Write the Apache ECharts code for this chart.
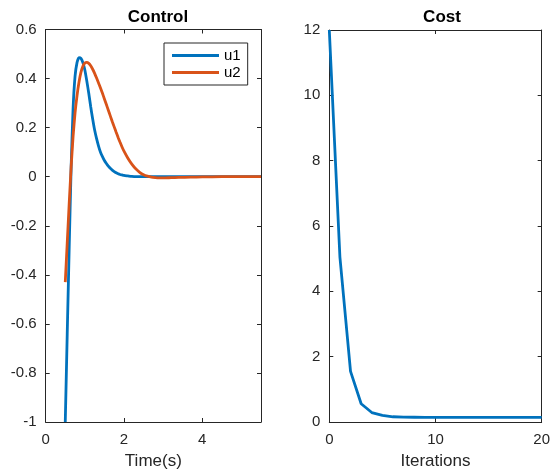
<!DOCTYPE html>
<html>
<head>
<meta charset="utf-8">
<script src="https://cdn.jsdelivr.net/npm/echarts@6/dist/echarts.min.js"></script>
<style>
html,body{margin:0;padding:0;background:#fff;}
#chart{width:553px;height:475px;}
</style>
</head>
<body>
<div id="chart"></div>
<script>
// ---- data ----
const time = [0.50, 0.55, 0.60, 0.65, 0.70, 0.75, 0.80, 0.85, 0.90, 0.95,
              1.00, 1.05, 1.10, 1.15, 1.20, 1.25, 1.30, 1.35, 1.40, 1.45,
              1.50, 1.55, 1.60, 1.65, 1.70, 1.75, 1.80, 1.85, 1.90, 1.95,
              2.00, 2.10, 2.20, 2.30, 2.40, 2.50, 2.60, 2.70, 2.80, 2.90,
              3.00, 3.20, 3.40, 3.70, 4.00, 4.50, 5.00, 5.50];
const u1 = [-1.00, -0.64, -0.29, 0.04, 0.28, 0.41, 0.465, 0.485, 0.482, 0.465,
            0.435, 0.39, 0.34, 0.285, 0.235, 0.19, 0.155, 0.125, 0.10, 0.082,
            0.066, 0.054, 0.043, 0.034, 0.027, 0.021, 0.016, 0.012, 0.009, 0.007,
            0.005, 0.003, 0.001, 0, 0, 0, 0, 0, 0, 0,
            0, 0, 0, 0, 0, 0, 0, 0];
const u2 = [-0.43, -0.27, -0.11, 0.04, 0.165, 0.26, 0.33, 0.385, 0.425, 0.45,
            0.463, 0.466, 0.462, 0.452, 0.438, 0.421, 0.402, 0.382, 0.362, 0.340,
            0.317, 0.294, 0.271, 0.248, 0.225, 0.203, 0.181, 0.160, 0.140, 0.121,
            0.104, 0.075, 0.051, 0.032, 0.018, 0.008, 0.002, -0.002, -0.004, -0.005,
            -0.005, -0.004, -0.003, -0.002, -0.001, 0, 0, 0];
const iterations = [0, 1, 2, 3, 4, 5, 6, 7, 8, 9, 10, 11, 12, 13, 14, 15, 16, 17, 18, 19, 20];
const cost = [12, 5.05, 1.55, 0.56, 0.29, 0.2, 0.16, 0.15, 0.145, 0.14, 0.14, 0.14, 0.14, 0.14, 0.14, 0.14, 0.14, 0.14, 0.14, 0.14, 0.14];
const seriesNames = ['u1', 'u2'];
const titles = ['Control', 'Cost'];
const xNames = ['Time(s)', 'Iterations'];

// ---- chart ----
const FONT = '"Liberation Sans", Arial, Helvetica, sans-serif';
const AX = '#262626';
const BLUE = '#0072BD', ORANGE = '#D95319';
const TICK_FS = 15;

function axisBase(extra) {
  return Object.assign({
    type: 'value',
    axisLine: {show: true, onZero: false, lineStyle: {color: AX, width: 1}},
    axisTick: {show: true, inside: true, length: 4, lineStyle: {color: AX}},
    splitLine: {show: false},
    axisLabel: {color: AX, fontFamily: FONT, fontSize: TICK_FS}
  }, extra);
}

const chart = echarts.init(document.getElementById('chart'), null, {renderer: 'canvas'});
const option = {
  animation: false,
  backgroundColor: '#fff',
  title: [
    {text: titles[0], left: 153, top: 4, textAlign: 'center',
     textStyle: {fontFamily: FONT, fontSize: 17, fontWeight: 'bold', color: '#000'}},
    {text: titles[1], left: 437, top: 4, textAlign: 'center',
     textStyle: {fontFamily: FONT, fontSize: 17, fontWeight: 'bold', color: '#000'}}
  ],
  legend: {
    data: seriesNames,
    orient: 'vertical',
    left: 164, top: 43,
    icon: 'rect', itemWidth: 47, itemHeight: 3, itemGap: 2, itemTextGap: 5,
    padding: [5, 7, 5, 8],
    borderColor: AX, borderWidth: 1, backgroundColor: '#fff',
    textStyle: {fontFamily: FONT, fontSize: 15, color: '#000'}
  },
  grid: [
    {left: 45.7, top: 29.5, width: 215.3, height: 394.5},
    {left: 329.3, top: 30, width: 216.7, height: 394}
  ],
  xAxis: [
    axisBase({gridIndex: 0, position: 'bottom', min: 0, max: 5.5, interval: 2,
      name: xNames[0], nameLocation: 'middle', nameGap: 31,
      nameTextStyle: {fontFamily: FONT, fontSize: 17, color: AX},
      axisLabel: {color: AX, fontFamily: FONT, fontSize: TICK_FS, margin: 10, showMaxLabel: false}}),
    axisBase({gridIndex: 0, position: 'top', min: 0, max: 5.5, interval: 2,
      axisLabel: {show: false}}),
    axisBase({gridIndex: 1, position: 'bottom', min: 0, max: 20, interval: 10,
      name: xNames[1], nameLocation: 'middle', nameGap: 31,
      nameTextStyle: {fontFamily: FONT, fontSize: 17, color: AX},
      axisLabel: {color: AX, fontFamily: FONT, fontSize: TICK_FS, margin: 10}}),
    axisBase({gridIndex: 1, position: 'top', min: 0, max: 20, interval: 10,
      axisLabel: {show: false}})
  ],
  yAxis: [
    axisBase({gridIndex: 0, position: 'left', min: -1, max: 0.6, interval: 0.2,
      axisLabel: {color: AX, fontFamily: FONT, fontSize: TICK_FS, margin: 9,
        formatter: v => (Math.abs(v) < 1e-9 ? '0' : String(Math.round(v * 10) / 10))}}),
    axisBase({gridIndex: 0, position: 'right', min: -1, max: 0.6, interval: 0.2,
      axisLabel: {show: false}}),
    axisBase({gridIndex: 1, position: 'left', min: 0, max: 12, interval: 2,
      axisLabel: {color: AX, fontFamily: FONT, fontSize: TICK_FS, margin: 9}}),
    axisBase({gridIndex: 1, position: 'right', min: 0, max: 12, interval: 2,
      axisLabel: {show: false}})
  ],
  series: [
    {name: seriesNames[0], type: 'line', xAxisIndex: 0, yAxisIndex: 0,
     data: time.map((t, i) => [t, u1[i]]), showSymbol: false, smooth: 0.2,
     lineStyle: {color: BLUE, width: 2.8}, itemStyle: {color: BLUE}, clip: true, z: 3},
    {name: seriesNames[1], type: 'line', xAxisIndex: 0, yAxisIndex: 0,
     data: time.map((t, i) => [t, u2[i]]), showSymbol: false, smooth: 0.2,
     lineStyle: {color: ORANGE, width: 2.8}, itemStyle: {color: ORANGE}, clip: true, z: 4},
    {name: 'cost', type: 'line', xAxisIndex: 2, yAxisIndex: 2,
     data: iterations.map((k, i) => [k, cost[i]]), showSymbol: false,
     lineStyle: {color: BLUE, width: 2.8}, itemStyle: {color: BLUE}, clip: true}
  ]
};
chart.setOption(option);
</script>
</body>
</html>
